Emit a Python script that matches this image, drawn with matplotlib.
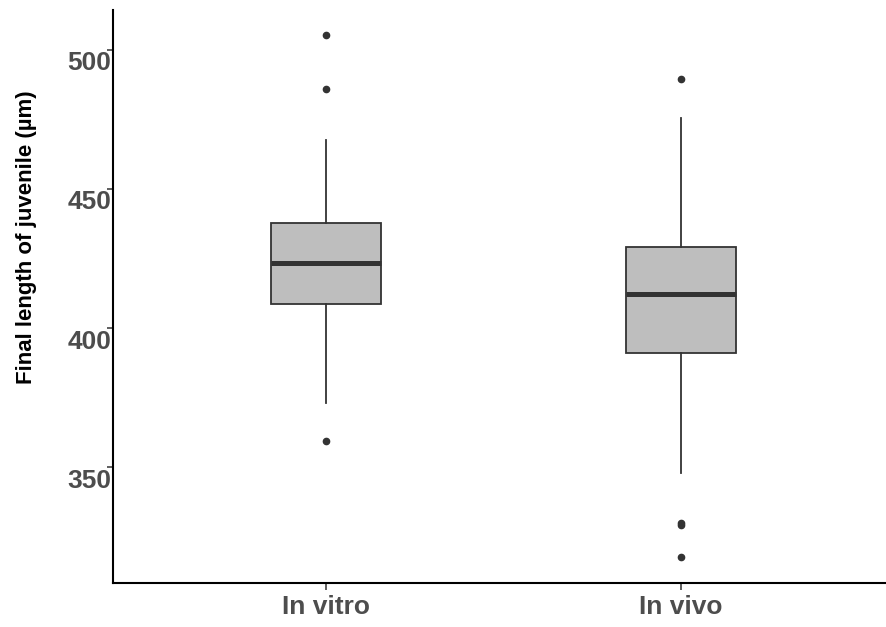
"""Boxplot de la longueur finale des juvéniles, in vitro vs in vivo."""

import matplotlib

matplotlib.use("Agg")
import matplotlib.pyplot as plt
from matplotlib.transforms import ScaledTranslation

plt.rcParams["font.family"] = ["Liberation Sans", "DejaVu Sans"]

# --- données ---
groups = ["In vitro", "In vivo"]
whisker_low = [372.9, 348.0]
q1 = [408.6, 390.9]
median = [423.3, 412.1]
q3 = [437.7, 429.0]
whisker_high = [467.6, 475.4]
outliers = [
    [505.4, 486.0, 359.5],
    [489.5, 330.0, 329.2, 317.7],
]
yticks = [350, 400, 450, 500]

LINE = "#333333"
FILL = "#BEBEBE"
TICKTXT = "#4D4D4D"

stats = [
    dict(label=g, whislo=lo, q1=a, med=m, q3=b, whishi=hi, fliers=fl)
    for g, lo, a, m, b, hi, fl in zip(groups, whisker_low, q1, median, q3, whisker_high, outliers)
]

fig = plt.figure(figsize=(8.86, 6.27), dpi=100)
ax = fig.add_axes([0.1275, 0.0702, 0.8725, 0.914])

ax.bxp(
    stats,
    positions=[1, 2],
    widths=0.31,
    patch_artist=True,
    showcaps=False,
    boxprops=dict(facecolor=FILL, edgecolor=LINE, linewidth=1.3),
    medianprops=dict(color=LINE, linewidth=3.6, solid_capstyle="butt"),
    whiskerprops=dict(color=LINE, linewidth=1.3),
    flierprops=dict(marker="o", markersize=4.5, markerfacecolor=LINE, markeredgecolor=LINE),
)

ax.set_xlim(0.4, 2.577)
ax.set_ylim(308.3, 514.4)
ax.set_yticks(yticks)
ax.set_yticklabels([str(v) for v in yticks])
ax.set_xticks([1, 2])
ax.set_xticklabels(groups)

for side in ("top", "right"):
    ax.spines[side].set_visible(False)
for side in ("left", "bottom"):
    ax.spines[side].set_linewidth(1.5)
    ax.spines[side].set_color("black")

ax.tick_params(axis="y", length=4, width=1.1, color=LINE, pad=-3,
               labelsize=19, labelcolor=TICKTXT)
ax.tick_params(axis="x", length=5, width=1.1, color=LINE, pad=4,
               labelsize=19, labelcolor=TICKTXT)
for lab in ax.get_yticklabels() + ax.get_xticklabels():
    lab.set_fontweight("bold")
# les étiquettes y sont décalées vers le bas dans l'original
shift = ScaledTranslation(0, -11 / 100, fig.dpi_scale_trans)
for lab in ax.get_yticklabels():
    lab.set_transform(lab.get_transform() + shift)

fig.text(0.030, 0.622, "Final length of juvenile (µm)", rotation=90,
         ha="center", va="center", fontsize=16, fontweight="bold", color="black")

fig.savefig("out.png", dpi=100)
